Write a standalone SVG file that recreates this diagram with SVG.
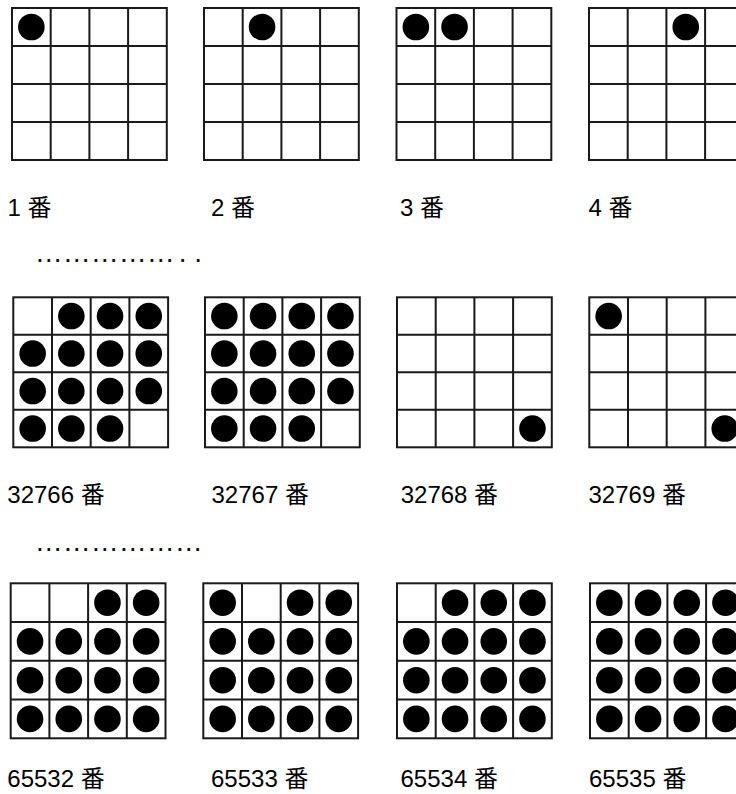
<svg xmlns="http://www.w3.org/2000/svg" xmlns:xlink="http://www.w3.org/1999/xlink" width="736" height="794" viewBox="0 0 736 794">
<style>
.grid{fill:none;stroke:#1a1a1a;stroke-width:2}
.dot{fill:#000}
.lbl{font-family:"Liberation Sans","Noto Sans CJK JP",sans-serif;font-size:24px;fill:#000}
.ell{font-family:"Liberation Sans",sans-serif;font-size:28px;fill:#111}
</style>
<defs>
<circle id="d" class="dot" cx="0" cy="0" r="13.3"/>
<g id="gridA" class="grid"><rect x="0" y="0" width="154.8" height="152"/><path d="M38.7 0V152M77.4 0V152M116.1 0V152M0 38H154.8M0 76H154.8M0 114H154.8"/></g>
<g id="gridB" class="grid"><rect x="0" y="0" width="154.8" height="150"/><path d="M38.7 0V150M77.4 0V150M116.1 0V150M0 37.5H154.8M0 75H154.8M0 112.5H154.8"/></g>
<g id="gridC" class="grid"><rect x="0" y="0" width="154.8" height="155"/><path d="M38.7 0V155M77.4 0V155M116.1 0V155M0 38.75H154.8M0 77.5H154.8M0 116.25H154.8"/></g>
<g id="rowB1"><use href="#d" x="19.35" y="56.25"/><use href="#d" x="58.05" y="56.25"/><use href="#d" x="96.75" y="56.25"/><use href="#d" x="135.45" y="56.25"/></g>
<g id="rowB2"><use href="#d" x="19.35" y="93.75"/><use href="#d" x="58.05" y="93.75"/><use href="#d" x="96.75" y="93.75"/><use href="#d" x="135.45" y="93.75"/></g>
<g id="rowB3a"><use href="#d" x="19.35" y="131.25"/><use href="#d" x="58.05" y="131.25"/><use href="#d" x="96.75" y="131.25"/></g>
<g id="fullC"><use href="#d" x="19.35" y="58.1"/><use href="#d" x="58.05" y="58.1"/><use href="#d" x="96.75" y="58.1"/><use href="#d" x="135.45" y="58.1"/><use href="#d" x="19.35" y="96.9"/><use href="#d" x="58.05" y="96.9"/><use href="#d" x="96.75" y="96.9"/><use href="#d" x="135.45" y="96.9"/><use href="#d" x="19.35" y="135.6"/><use href="#d" x="58.05" y="135.6"/><use href="#d" x="96.75" y="135.6"/><use href="#d" x="135.45" y="135.6"/></g>
</defs>
<rect width="736" height="794" fill="#fff"/>

<g id="n1" transform="translate(12,8)"><use href="#gridA"/><use href="#d" x="19.35" y="19"/></g>
<g id="n2" transform="translate(204,8)"><use href="#gridA"/><use href="#d" x="58.05" y="19"/></g>
<g id="n3" transform="translate(396.5,8)"><use href="#gridA"/><use href="#d" x="19.35" y="19"/><use href="#d" x="58.05" y="19"/></g>
<g id="n4" transform="translate(589,8)"><use href="#gridA"/><use href="#d" x="96.75" y="19"/></g>

<g id="n32766" transform="translate(13.3,297.3)"><use href="#gridB"/><use href="#d" x="58.05" y="18.75"/><use href="#d" x="96.75" y="18.75"/><use href="#d" x="135.45" y="18.75"/><use href="#rowB1"/><use href="#rowB2"/><use href="#rowB3a"/></g>
<g id="n32767" transform="translate(205,297.3)"><use href="#gridB"/><use href="#d" x="19.35" y="18.75"/><use href="#d" x="58.05" y="18.75"/><use href="#d" x="96.75" y="18.75"/><use href="#d" x="135.45" y="18.75"/><use href="#rowB1"/><use href="#rowB2"/><use href="#rowB3a"/></g>
<g id="n32768" transform="translate(397,297.3)"><use href="#gridB"/><use href="#d" x="135.45" y="131.25"/></g>
<g id="n32769" transform="translate(589.3,297.3)"><use href="#gridB"/><use href="#d" x="19.35" y="18.75"/><use href="#d" x="135.45" y="131.25"/></g>

<g id="n65532" transform="translate(10.7,583.3)"><use href="#gridC"/><use href="#d" x="96.75" y="19.4"/><use href="#d" x="135.45" y="19.4"/><use href="#fullC"/></g>
<g id="n65533" transform="translate(203.3,583.3)"><use href="#gridC"/><use href="#d" x="19.35" y="19.4"/><use href="#d" x="96.75" y="19.4"/><use href="#d" x="135.45" y="19.4"/><use href="#fullC"/></g>
<g id="n65534" transform="translate(397,583.3)"><use href="#gridC"/><use href="#d" x="58.05" y="19.4"/><use href="#d" x="96.75" y="19.4"/><use href="#d" x="135.45" y="19.4"/><use href="#fullC"/></g>
<g id="n65535" transform="translate(590,583.3)"><use href="#gridC"/><use href="#d" x="19.35" y="19.4"/><use href="#d" x="58.05" y="19.4"/><use href="#d" x="96.75" y="19.4"/><use href="#d" x="135.45" y="19.4"/><use href="#fullC"/></g>

<g id="labels">
<text class="lbl" x="7.4" y="216">1 番</text>
<text class="lbl" x="211" y="216">2 番</text>
<text class="lbl" x="400" y="216">3 番</text>
<text class="lbl" x="588.5" y="216">4 番</text>
<text class="lbl" x="7.3" y="502.5">32766 番</text>
<text class="lbl" x="211.5" y="502.5">32767 番</text>
<text class="lbl" x="400.7" y="502.5">32768 番</text>
<text class="lbl" x="588.5" y="502.5">32769 番</text>
<text class="lbl" x="7.3" y="787">65532 番</text>
<text class="lbl" x="211" y="787">65533 番</text>
<text class="lbl" x="400.5" y="787">65534 番</text>
<text class="lbl" x="589" y="787">65535 番</text>
<text class="ell" x="34.7" y="262">……………<tspan dx="4">.</tspan> .</text>
<text class="ell" x="34.7" y="551">………………</text>
</g>
<g id="connectors"/>
</svg>
